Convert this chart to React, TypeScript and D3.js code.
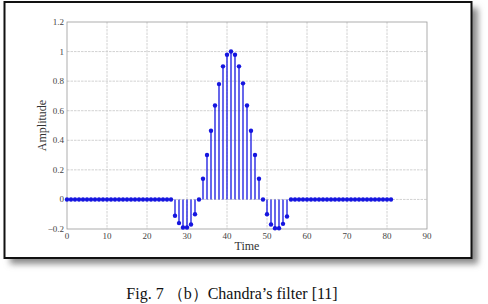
import * as d3 from "d3";
import { useLayoutEffect, useRef } from "react";

// stem samples, n = 0..81
const zerosBefore = d3.range(0, 27).map(() => 0);
const lobeLeft = [-0.11, -0.16, -0.19, -0.19, -0.17, -0.1];
const mainLobe = [
  0, 0.14, 0.3, 0.465, 0.635, 0.78, 0.9, 0.978, 1, 0.978, 0.9, 0.785, 0.635,
  0.465, 0.3, 0.14, 0,
];
const lobeRight = [-0.1, -0.17, -0.195, -0.195, -0.165, -0.115];
const zerosAfter = d3.range(56, 82).map(() => 0);
const amplitude = [...zerosBefore, ...lobeLeft, ...mainLobe, ...lobeRight, ...zerosAfter];

const xTicks = [0, 10, 20, 30, 40, 50, 60, 70, 80, 90];
const yTicks = [-0.2, 0, 0.2, 0.4, 0.6, 0.8, 1, 1.2];
const caption = "Fig. 7 （b）Chandra’s filter [11]";

export default function App() {
  const W = 488;
  const H = 304;
  const plot = { left: 67, right: 427, top: 22, bottom: 229 };
  const svgRef = useRef(null);

  useLayoutEffect(() => {
    const svg = d3.select(svgRef.current);
    svg.selectAll("*").remove();

    const x = d3.scaleLinear().domain([0, 90]).range([plot.left, plot.right]);
    const y = d3.scaleLinear().domain([-0.2, 1.2]).range([plot.bottom, plot.top]);

    const defs = svg.append("defs");
    defs
      .append("filter")
      .attr("id", "shadow")
      .attr("x", "-10%")
      .attr("y", "-10%")
      .attr("width", "130%")
      .attr("height", "130%")
      .append("feGaussianBlur")
      .attr("stdDeviation", 3);

    // paper frame with drop shadow
    svg
      .append("rect")
      .attr("x", 10)
      .attr("y", 8)
      .attr("width", 468)
      .attr("height", 256)
      .attr("fill", "#8a8a8a")
      .attr("filter", "url(#shadow)");
    svg
      .append("rect")
      .attr("x", 4.5)
      .attr("y", 2)
      .attr("width", 467)
      .attr("height", 256)
      .attr("fill", "#fff")
      .attr("stroke", "#111")
      .attr("stroke-width", 2);

    const g = svg.append("g");

    // grid
    g.selectAll(".gx")
      .data(xTicks.slice(1, -1))
      .join("line")
      .attr("x1", (d) => x(d))
      .attr("x2", (d) => x(d))
      .attr("y1", plot.top)
      .attr("y2", plot.bottom)
      .attr("stroke", "#cdcdcd")
      .attr("stroke-width", 0.9)
      .attr("stroke-dasharray", "2.5,1");
    g.selectAll(".gy")
      .data(yTicks.slice(1, -1))
      .join("line")
      .attr("x1", plot.left)
      .attr("x2", plot.right)
      .attr("y1", (d) => y(d))
      .attr("y2", (d) => y(d))
      .attr("stroke", "#cdcdcd")
      .attr("stroke-width", 0.9)
      .attr("stroke-dasharray", "2.5,1");

    g.append("rect")
      .attr("x", plot.left)
      .attr("y", plot.top)
      .attr("width", plot.right - plot.left)
      .attr("height", plot.bottom - plot.top)
      .attr("fill", "none")
      .attr("stroke", "#9a9a9a")
      .attr("stroke-width", 0.8);

    // tick labels
    g.selectAll(".tx")
      .data(xTicks)
      .join("text")
      .attr("x", (d) => x(d))
      .attr("y", plot.bottom + 10)
      .attr("text-anchor", "middle")
      .attr("font-family", "Liberation Serif")
      .attr("font-size", 9)
      .attr("fill", "#444")
      .text((d) => d);
    g.selectAll(".ty")
      .data(yTicks)
      .join("text")
      .attr("x", plot.left - 3)
      .attr("y", (d) => y(d) + 3)
      .attr("text-anchor", "end")
      .attr("font-family", "Liberation Serif")
      .attr("font-size", 9)
      .attr("fill", "#444")
      .text((d) => d3.format("")(Math.round(d * 10) / 10));

    // axis labels
    g.append("text")
      .attr("x", 247)
      .attr("y", 250)
      .attr("text-anchor", "middle")
      .attr("font-family", "Liberation Serif")
      .attr("font-size", 12)
      .attr("fill", "#333")
      .text("Time");
    g.append("text")
      .attr("transform", `translate(46, ${(plot.top + plot.bottom) / 2}) rotate(-90)`)
      .attr("text-anchor", "middle")
      .attr("font-family", "Liberation Serif")
      .attr("font-size", 12)
      .attr("fill", "#333")
      .text("Amplitude");

    // stems
    const blue = "#1515e0";
    g.selectAll(".stem")
      .data(amplitude)
      .join("line")
      .attr("x1", (d, i) => x(i))
      .attr("x2", (d, i) => x(i))
      .attr("y1", y(0))
      .attr("y2", (d) => y(d))
      .attr("stroke", blue)
      .attr("stroke-width", 1.3);
    g.selectAll(".dot")
      .data(amplitude)
      .join("circle")
      .attr("cx", (d, i) => x(i))
      .attr("cy", (d) => y(d))
      .attr("r", 2.2)
      .attr("fill", blue);

    svg
      .append("text")
      .attr("x", 232)
      .attr("y", 299)
      .attr("text-anchor", "middle")
      .attr("font-family", "Liberation Serif")
      .attr("font-size", 16)
      .attr("fill", "#111")
      .text(caption);
  }, []);

  return (
    <svg
      ref={svgRef}
      width={W}
      height={H}
      style={{ position: "absolute", left: 0, top: 0, background: "#fff" }}
    ></svg>
  );
}
